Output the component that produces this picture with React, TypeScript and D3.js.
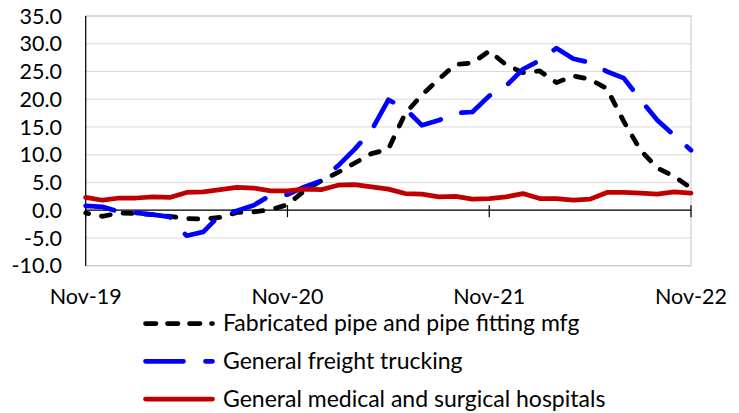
import React, { useRef, useEffect } from 'react';
import * as d3 from 'd3';

// monthly, Nov-19 .. Nov-22
const months = d3.timeMonth.range(new Date(2019, 10, 1), new Date(2022, 11, 1)).map(d3.timeFormat('%b-%y'));
const tickLabels = ['Nov-19', 'Nov-20', 'Nov-21', 'Nov-22'];
const yTicks = [-10, -5, 0, 5, 10, 15, 20, 25, 30, 35];

const pipe = [
  -0.5, -1.1, -0.5, -0.6, -0.8, -1.1, -1.5, -1.6, -1.3, -0.4, -0.3, 0.1, 1.0,
  3.5, 5.3, 6.8, 8.5, 10.2, 11.0, 17.4, 20.8, 23.6, 26.3, 26.5, 28.7,
  26.2, 24.8, 25.1, 23.0, 24.2, 23.6, 21.9, 16.0, 10.8, 7.6, 6.1, 4.0,
];
const trucking = [
  0.8, 0.6, -0.3, -0.5, -0.8, -1.2, -4.6, -3.9, -0.8, -0.1, 0.9, 2.7, 2.8,
  4.2, 5.3, 8.0, 11.0, 14.4, 19.9, 18.3, 15.3, 16.2, 17.5, 17.7, 20.6,
  22.4, 25.4, 27.0, 29.2, 27.3, 26.6, 25.0, 23.8, 19.9, 16.2, 13.5, 10.8,
];
const hospitals = [
  2.3, 1.8, 2.2, 2.2, 2.4, 2.3, 3.2, 3.3, 3.7, 4.1, 4.0, 3.5, 3.5,
  3.8, 3.7, 4.5, 4.6, 4.2, 3.8, 3.0, 2.9, 2.4, 2.5, 2.0, 2.1,
  2.4, 3.0, 2.1, 2.1, 1.8, 2.0, 3.2, 3.2, 3.1, 2.9, 3.3, 3.1,
];

const seriesNames = [
  'Fabricated pipe and pipe fitting mfg',
  'General freight trucking',
  'General medical and surgical hospitals',
];

const W = 739;
const H = 413;
const FONT = 'Lato, "Open Sans", sans-serif';

const App = () => {
  const ref = useRef(null);

  useEffect(() => {
    const svg = d3.select(ref.current);
    svg.selectAll('*').remove();

    const left = 85.7, right = 691, top = 16, bottom = 265.7;

    const x = d3.scalePoint().domain(months).range([left, right]);
    const y = d3.scaleLinear().domain([-10, 35]).range([bottom, top]);

    // gridlines
    svg.append('g')
      .selectAll('line')
      .data(yTicks)
      .join('line')
      .attr('x1', left).attr('x2', right)
      .attr('y1', d => y(d)).attr('y2', d => y(d))
      .attr('stroke', '#d9d9d9').attr('stroke-width', 1);

    // plot area border
    svg.append('rect')
      .attr('x', left).attr('y', top)
      .attr('width', right - left).attr('height', bottom - top)
      .attr('fill', 'none').attr('stroke', '#c4c4c4').attr('stroke-width', 1);

    // left axis
    svg.append('line')
      .attr('x1', left).attr('x2', left).attr('y1', top).attr('y2', bottom)
      .attr('stroke', '#000').attr('stroke-width', 1.2);

    // y labels
    svg.append('g')
      .selectAll('text')
      .data(yTicks)
      .join('text')
      .attr('x', 62).attr('y', d => y(d)).attr('dy', '0.36em')
      .attr('text-anchor', 'end')
      .attr('font-family', FONT).attr('font-size', 21.5).attr('fill', '#000')
      .text(d => d.toFixed(1));

    // zero axis with yearly ticks
    const y0 = y(0);
    svg.append('line')
      .attr('x1', left).attr('x2', right).attr('y1', y0).attr('y2', y0)
      .attr('stroke', '#000').attr('stroke-width', 1.2);

    svg.append('g')
      .selectAll('line')
      .data(tickLabels)
      .join('line')
      .attr('x1', d => x(d)).attr('x2', d => x(d))
      .attr('y1', y0 - 5).attr('y2', y0 + 7)
      .attr('stroke', '#000').attr('stroke-width', 1.2);

    svg.append('g')
      .selectAll('text')
      .data(tickLabels)
      .join('text')
      .attr('x', d => x(d)).attr('y', 303.5)
      .attr('text-anchor', 'middle')
      .attr('font-family', FONT).attr('font-size', 21.5).attr('fill', '#000')
      .text(d => d);

    const series = [
      { name: seriesNames[0], values: pipe, color: '#000000', dash: '9 13' },
      { name: seriesNames[1], values: trucking, color: '#0000ff', dash: '35 22' },
      { name: seriesNames[2], values: hospitals, color: '#c00000', dash: null },
    ];

    const line = d3.line()
      .x((d, i) => x(months[i]))
      .y(d => y(d));

    series.forEach(s => {
      svg.append('path')
        .datum(s.values)
        .attr('d', line)
        .attr('fill', 'none')
        .attr('stroke', s.color)
        .attr('stroke-width', 4.75)
        .attr('stroke-linecap', 'round')
        .attr('stroke-linejoin', 'round')
        .attr('stroke-dasharray', s.dash)
        .attr('stroke-dashoffset', s.dash ? 6 : null);
    });

    // legend
    const legend = svg.append('g');
    series.forEach((s, i) => {
      const base = 331 + i * 37.8;
      legend.append('line')
        .attr('x1', 145.5).attr('x2', 212.5)
        .attr('y1', base - 7.5).attr('y2', base - 7.5)
        .attr('stroke', s.color).attr('stroke-width', 4.75)
        .attr('stroke-linecap', 'round')
        .attr('stroke-dasharray', i === 0 ? '10.5 11.5' : i === 1 ? '38 22' : null);
      legend.append('text')
        .attr('x', 223).attr('y', base)
        .attr('font-family', FONT).attr('font-size', 23).attr('fill', '#000')
        .text(s.name);
    });

    return () => {
      svg.selectAll('*').remove();
    };
  }, []);

  return (
    <svg
      ref={ref}
      width={W}
      height={H}
      style={{ position: 'absolute', left: 0, top: 0, background: '#fff' }}
    />
  );
};

export default App;
